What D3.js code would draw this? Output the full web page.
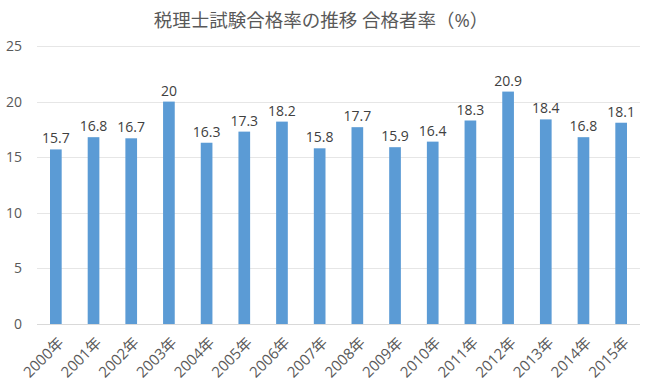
<!DOCTYPE html>
<html><head><meta charset="utf-8">
<script src="https://cdn.jsdelivr.net/npm/d3@7"></script>
<style>body{margin:0;background:#fff;} text{font-family:"Open Sans","Noto Sans CJK JP",sans-serif;}</style>
</head><body><svg id="c" width="650" height="390"></svg>
<script>
const categories = ["2000年","2001年","2002年","2003年","2004年","2005年","2006年","2007年","2008年","2009年","2010年","2011年","2012年","2013年","2014年","2015年"];
const values = [15.7,16.8,16.7,20,16.3,17.3,18.2,15.8,17.7,15.9,16.4,18.3,20.9,18.4,16.8,18.1];
const valueLabels = ["15.7","16.8","16.7","20","16.3","17.3","18.2","15.8","17.7","15.9","16.4","18.3","20.9","18.4","16.8","18.1"];
const yTicks = [0,5,10,15,20,25];
const title = "税理士試験合格率の推移 合格者率（%）";

(function(){
const svg = d3.select("#c");
const mLeft = 37, mRight = 640, mTop = 46, mBottom = 324;
const x = d3.scaleBand().domain(categories).range([mLeft, mRight]).paddingInner(0.69).paddingOuter(0.345);
const y = d3.scaleLinear().domain([0, 25]).range([mBottom, mTop]);

svg.append("g").selectAll("line").data(yTicks).join("line")
  .attr("x1", mLeft).attr("x2", mRight)
  .attr("y1", d => Math.round(y(d)) + 0.5).attr("y2", d => Math.round(y(d)) + 0.5)
  .attr("stroke", d => d === 0 ? "#d9d9d9" : "#e6e6e6").attr("stroke-width", 1);

svg.append("g").selectAll("text").data(yTicks).join("text")
  .attr("x", 22).attr("y", d => y(d)).attr("dy", "0.35em")
  .attr("text-anchor", "end").attr("font-size", 14).attr("fill", "#595959")
  .text(d => d);

svg.append("g").selectAll("rect").data(values).join("rect")
  .attr("x", (d, i) => x(categories[i])).attr("width", x.bandwidth())
  .attr("y", d => y(d)).attr("height", d => y(0) - y(d))
  .attr("fill", "#5B9BD5");

svg.append("g").selectAll("text").data(values).join("text")
  .attr("x", (d, i) => x(categories[i]) + x.bandwidth() / 2)
  .attr("y", d => y(d) - 6)
  .attr("text-anchor", "middle").attr("font-size", 14).attr("fill", "#404040")
  .text((d, i) => valueLabels[i]);

svg.append("g").selectAll("text").data(categories).join("text")
  .attr("transform", d => `translate(${x(d) + x.bandwidth() / 2 + 5},${mBottom + 16}) rotate(-45)`)
  .attr("text-anchor", "end").attr("dy", "0.35em").attr("font-size", 15).attr("fill", "#595959")
  .text(d => d);

svg.append("text").attr("x", 321).attr("y", 27).attr("text-anchor", "middle")
  .attr("font-family", "'Noto Sans CJK JP', sans-serif")
  .attr("font-size", 18.5).attr("fill", "#595959").text(title);
})();
</script></body></html>
